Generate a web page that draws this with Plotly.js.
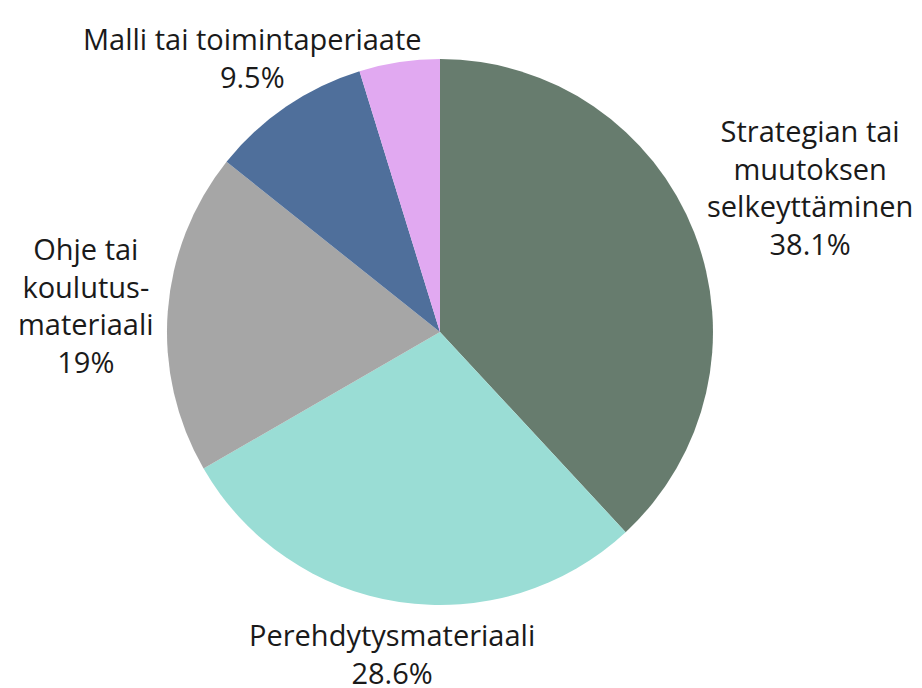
<!DOCTYPE html>
<html>
<head>
<meta charset="utf-8">
<script src="https://cdn.plot.ly/plotly-3.0.1.min.js"></script>
<style>html,body{margin:0;padding:0;background:#fff;}#chart{width:922px;height:688px;}</style>
</head>
<body>
<div id="chart"></div>
<script>
const categories = ["Strategian tai muutoksen selkeyttäminen", "Perehdytysmateriaali", "Ohje tai koulutusmateriaali", "Malli tai toimintaperiaate", "Muu"];
const values = [8, 6, 4, 2, 1];
const labelTexts = ["Strategian tai<br>muutoksen<br>selkeyttäminen", "Perehdytysmateriaali", "Ohje tai<br>koulutus-<br>materiaali", "Malli tai toimintaperiaate", ""];
const percentLabels = ["38.1%", "28.6%", "19%", "9.5%", ""];
const colors = ["#677c6e", "#9addd5", "#a6a6a6", "#4f6f9b", "#e1a9f1"];

const W = 922, H = 688;
const FONT_SIZE = 29, FONT_FAMILY = "Open Sans";
const LINE_H = FONT_SIZE * 1.3;
const GAP = 14;
const domain = {x: [0.1811, 0.7733], y: [0.1206, 0.9142]};

// pie geometry derived from the domain
const cx = (domain.x[0] + domain.x[1]) / 2 * W;
const cy = (1 - (domain.y[0] + domain.y[1]) / 2) * H;
const r = Math.min((domain.x[1] - domain.x[0]) * W, (domain.y[1] - domain.y[0]) * H) / 2;

const ctx = document.createElement("canvas").getContext("2d");
ctx.font = FONT_SIZE + "px '" + FONT_FAMILY + "'";

const total = values.reduce((a, b) => a + b, 0);
let cum = 0;
const annotations = [];
values.forEach((v, i) => {
  const mid = (cum + v / 2) / total * 2 * Math.PI;
  cum += v;
  if (!labelTexts[i]) return;
  const text = labelTexts[i] + "<br>" + percentLabels[i];
  const lines = text.split("<br>");
  const w = Math.max(...lines.map(l => ctx.measureText(l).width));
  const h = lines.length * LINE_H;
  const s = Math.sin(mid), c = Math.cos(mid);
  const ext = Math.min(Math.abs(s) > 1e-6 ? (w / 2) / Math.abs(s) : Infinity,
                       Math.abs(c) > 1e-6 ? (h / 2) / Math.abs(c) : Infinity);
  const d = r + GAP + ext;
  const px = cx + d * s;
  const py = cy - d * c;
  annotations.push({
    x: px / W, y: 1 - py / H, xref: "paper", yref: "paper",
    xanchor: "center", yanchor: "middle", align: "center",
    text: text, showarrow: false,
    font: {family: FONT_FAMILY, size: FONT_SIZE, color: "#1a1a1a"}
  });
});

Plotly.newPlot("chart", [{
  type: "pie",
  labels: categories,
  values: values,
  textinfo: "none",
  hoverinfo: "label+percent",
  sort: false,
  direction: "clockwise",
  rotation: 0,
  marker: {colors: colors, line: {width: 0}},
  domain: domain,
  showlegend: false
}], {
  width: W, height: H,
  margin: {l: 0, r: 0, t: 0, b: 0},
  paper_bgcolor: "#fff",
  showlegend: false,
  annotations: annotations
}, {displayModeBar: false, staticPlot: true});
</script>
</body>
</html>
